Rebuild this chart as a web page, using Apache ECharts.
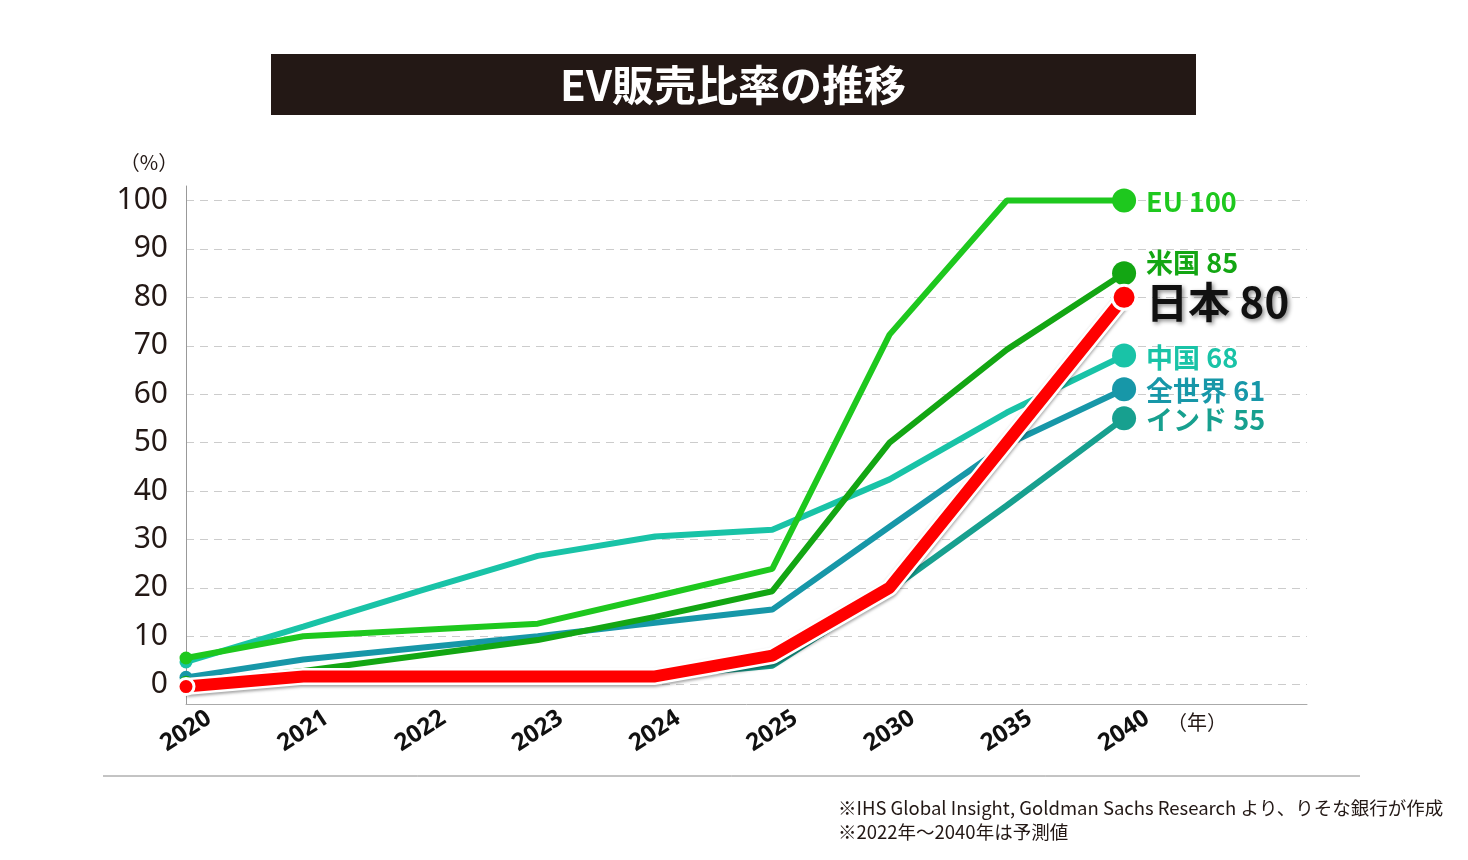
<!DOCTYPE html>
<html><head><meta charset="utf-8">
<script src="https://cdn.jsdelivr.net/npm/echarts@6/dist/echarts.min.js"></script>
<style>html,body{margin:0;padding:0;background:#fff}#c{width:1468px;height:860px}</style>
</head><body><div id="c"></div>
<script>
const years = ['2020','2021','2022','2023','2024','2025','2030','2035','2040'];
const yTicks = [0,10,20,30,40,50,60,70,80,90,100];
const eu    = [5.5, 10, 11.3, 12.6, 18.2, 23.9, 72.3, 100, 100];
const usa   = [0.5, 2.8, 6, 9.2, 14, 19.3, 50, 69.2, 85];
const japan = [-0.4, 1.7, 1.7, 1.7, 1.7, 6, 20, 50, 80];
const china = [4.7, 12, 19.4, 26.6, 30.6, 32, 42.4, 56.2, 68];
const world = [1.5, 5.2, 7.6, 10, 12.8, 15.5, 32.6, 49.6, 61];
const india = [0, 1.5, 1.7, 1.7, 1.7, 3.9, 19.5, 37, 55];
const seriesNames = ['EU','米国','日本','中国','全世界','インド'];

const FONT = "'Noto Sans', 'Noto Sans CJK JP', sans-serif";
const CJK = "'Noto Sans CJK JP', 'Noto Sans', sans-serif";

function toData(vals){ return vals.map((v,i)=>[i,v]); }

function mk(name, vals, color, width, opt){
  opt = opt || {};
  const last = vals.length - 1;
  return {
    name: name, type: 'line', data: toData(vals), z: opt.z || 2,
    symbol: 'circle',
    symbolSize: function(v, p){ return p.dataIndex === 0 ? (opt.s0 || 13) : (p.dataIndex === last ? 24 : 0); },
    showSymbol: true,
    itemStyle: { color: color, borderColor: opt.border ? '#fff' : color, borderWidth: opt.border ? 3 : 0 },
    lineStyle: { color: color, width: width },
    endLabel: Object.assign({
      show: true,
      formatter: function(p){ return name + ' ' + Math.round(p.value[1]); },
      color: color, fontSize: 27, fontWeight: 'bold', fontFamily: CJK,
      distance: 22, offset: [0, opt.dy || 0]
    }, opt.label || {}),
    emphasis: { disabled: true }
  };
}

const chart = echarts.init(document.getElementById('c'));
chart.setOption({
  animation: false,
  backgroundColor: '#fff',
  grid: { left: 186, right: 161, top: 186, bottom: 156, containLabel: false },
  xAxis: {
    type: 'value', min: 0, max: 9.56,
    axisLine: { show: true, onZero: false, lineStyle: { color: '#aaa', width: 1 } },
    axisTick: { show: false },
    splitLine: { show: false },
    axisLabel: {
      customValues: [0,1,2,3,4,5,6,7,8],
      formatter: function(v){ return years[Math.round(v)] || ''; },
      rotate: 33, align: 'center', verticalAlign: 'middle', margin: 27,
      fontSize: 24, fontWeight: 'bold', color: '#111', fontFamily: FONT
    }
  },
  yAxis: {
    type: 'value', min: -4, max: 103,
    axisLine: { show: true, lineStyle: { color: '#999', width: 1 } },
    axisTick: { show: false, customValues: yTicks },
    axisLabel: { customValues: yTicks, fontSize: 30, color: '#231815', margin: 18, fontFamily: FONT },
    splitLine: { show: true, lineStyle: { color: '#ccc', type: [8, 6], width: 1 } }
  },
  series: [
    mk('インド', india, '#17a08f', 6, { dy: 1 }),
    mk('全世界', world, '#1797a8', 6, { dy: 1 }),
    mk('中国', china, '#19c3a7', 6, { dy: 2 }),
    mk('米国', usa, '#13a613', 6, { dy: -10 }),
    mk('EU', eu, '#1ec81e', 6, { dy: 1 }),
    {
      name: '日本-outline', type: 'line', data: toData(japan), z: 3, silent: true,
      symbol: 'none', lineStyle: { color: '#fff', width: 17, shadowColor: 'rgba(0,0,0,0.35)', shadowBlur: 3, shadowOffsetY: 2 }
    },
    mk('日本', japan, '#ff0000', 12, { z: 4, border: true, s0: 16, dy: 5,
      label: { color: '#111', fontSize: 42, textShadowColor: 'rgba(0,0,0,0.45)', textShadowBlur: 4, textShadowOffsetX: 2, textShadowOffsetY: 2 } })
  ],
  graphic: [
    { type: 'rect', shape: { x: 271, y: 54, width: 925, height: 61 }, style: { fill: '#231815' } },
    { type: 'text', x: 733, y: 85, style: { text: 'EV販売比率の推移', fill: '#fff', font: "bold 42px " + CJK, textAlign: 'center', textVerticalAlign: 'middle' } },
    { type: 'text', x: 149, y: 162, style: { text: '（%）', fill: '#231815', font: "20px " + CJK, textAlign: 'center', textVerticalAlign: 'middle' } },
    { type: 'text', x: 1197, y: 722, style: { text: '（年）', fill: '#231815', font: "20px " + CJK, textAlign: 'center', textVerticalAlign: 'middle' } },
    { type: 'line', shape: { x1: 103, y1: 776, x2: 1360, y2: 776 }, style: { stroke: '#888', lineWidth: 1 } },
    { type: 'text', x: 838, y: 808, style: { text: '※IHS Global Insight, Goldman Sachs Research より、りそな銀行が作成', fill: '#231815', font: "18.5px " + CJK, textAlign: 'left', textVerticalAlign: 'middle' } },
    { type: 'text', x: 838, y: 832, style: { text: '※2022年〜2040年は予測値', fill: '#231815', font: "18.5px " + CJK, textAlign: 'left', textVerticalAlign: 'middle' } }
  ]
});
</script></body></html>
